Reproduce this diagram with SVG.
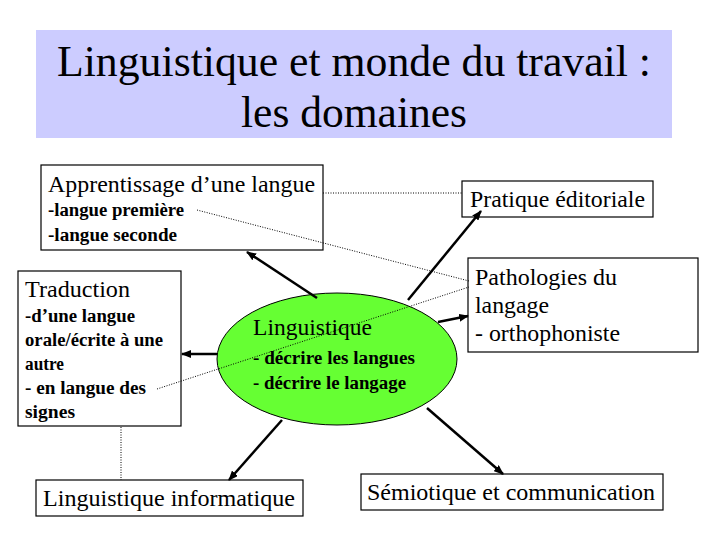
<svg xmlns="http://www.w3.org/2000/svg" width="720" height="540" viewBox="0 0 720 540">
<style>
.box{fill:#ffffff;stroke:#000000;stroke-width:1.2}
text{font-family:"Liberation Serif","DejaVu Serif","Noto Serif",Times,serif;fill:#000000}
.big{font-size:24px}
.sub{font-size:18px;font-weight:bold}
.title{font-size:44px;text-anchor:middle}
.arrow{stroke:#000000;stroke-width:2.5;fill:none;marker-end:url(#ah)}
.dot{stroke:#000000;stroke-width:1;stroke-dasharray:1 1.5;fill:none}
</style>
<defs>
<marker id="ah" viewBox="0 0 10 8" refX="9" refY="4" markerWidth="10" markerHeight="8" markerUnits="userSpaceOnUse" orient="auto">
<path d="M0,0 L10,4 L0,8 Z" fill="#000000"/>
</marker>
</defs>
<rect width="720" height="540" fill="#ffffff"/>
<g id="title">
<rect x="36" y="30" width="636" height="108" fill="#ccccff"/>
<text class="title" x="354" y="76" textLength="594" lengthAdjust="spacingAndGlyphs">Linguistique et monde du travail :</text>
<text class="title" x="354" y="127" textLength="226" lengthAdjust="spacingAndGlyphs">les domaines</text>
</g>
<g id="apprentissage">
<rect class="box" x="41" y="165" width="282" height="85"/>
<text class="big" x="48" y="192" textLength="267" lengthAdjust="spacingAndGlyphs">Apprentissage d’une langue</text>
<text class="sub" x="48" y="216" textLength="136" lengthAdjust="spacingAndGlyphs">-langue première</text>
<text class="sub" x="48" y="241" textLength="129" lengthAdjust="spacingAndGlyphs">-langue seconde</text>
</g>
<g id="traduction">
<rect class="box" x="18" y="271" width="163" height="155"/>
<text class="big" x="25" y="297" textLength="105" lengthAdjust="spacingAndGlyphs">Traduction</text>
<text class="sub" x="25" y="322" textLength="110" lengthAdjust="spacingAndGlyphs">-d’une langue</text>
<text class="sub" x="25" y="346" textLength="138" lengthAdjust="spacingAndGlyphs">orale/écrite à une</text>
<text class="sub" x="25" y="370" textLength="39" lengthAdjust="spacingAndGlyphs">autre</text>
<text class="sub" x="25" y="394" textLength="121" lengthAdjust="spacingAndGlyphs">- en langue des</text>
<text class="sub" x="25" y="418" textLength="50" lengthAdjust="spacingAndGlyphs">signes</text>
</g>
<g id="linguistique">
<ellipse cx="337" cy="359" rx="120" ry="66" fill="#66ff33" stroke="#000000" stroke-width="1"/>
<text class="big" x="253" y="335" textLength="119" lengthAdjust="spacingAndGlyphs">Linguistique</text>
<text class="sub" x="253" y="364" textLength="162" lengthAdjust="spacingAndGlyphs">- décrire les langues</text>
<text class="sub" x="253" y="389" textLength="153" lengthAdjust="spacingAndGlyphs">- décrire le langage</text>
</g>
<g id="pratique">
<rect class="box" x="462" y="181" width="191" height="36"/>
<text class="big" x="470" y="207" textLength="175" lengthAdjust="spacingAndGlyphs">Pratique éditoriale</text>
</g>
<g id="pathologies">
<rect class="box" x="468" y="258" width="230" height="94"/>
<text class="big" x="475" y="285" textLength="142" lengthAdjust="spacingAndGlyphs">Pathologies du</text>
<text class="big" x="475" y="313" textLength="74" lengthAdjust="spacingAndGlyphs">langage</text>
<text class="big" x="475" y="341" textLength="145" lengthAdjust="spacingAndGlyphs">- orthophoniste</text>
</g>
<g id="informatique">
<rect class="box" x="36" y="480" width="267" height="36"/>
<text class="big" x="43" y="506" textLength="252" lengthAdjust="spacingAndGlyphs">Linguistique informatique</text>
</g>
<g id="semiotique">
<rect class="box" x="361" y="474" width="302" height="36"/>
<text class="big" x="367" y="500" textLength="288" lengthAdjust="spacingAndGlyphs">Sémiotique et communication</text>
</g>
<g id="connectors">
<line class="arrow" x1="317" y1="298" x2="247" y2="252"/>
<line class="arrow" x1="217" y1="354" x2="182" y2="354"/>
<line class="arrow" x1="408" y1="300" x2="481" y2="211"/>
<line class="arrow" x1="438" y1="322" x2="468" y2="316"/>
<line class="arrow" x1="282" y1="420" x2="229" y2="480"/>
<line class="arrow" x1="427" y1="408" x2="503" y2="474"/>
<line class="dot" x1="323" y1="193" x2="462" y2="193"/>
<line class="dot" x1="197" y1="210" x2="469" y2="281"/>
<line class="dot" x1="157" y1="389" x2="469" y2="287"/>
<line class="dot" x1="121" y1="427" x2="121" y2="480"/>
</g>
</svg>
